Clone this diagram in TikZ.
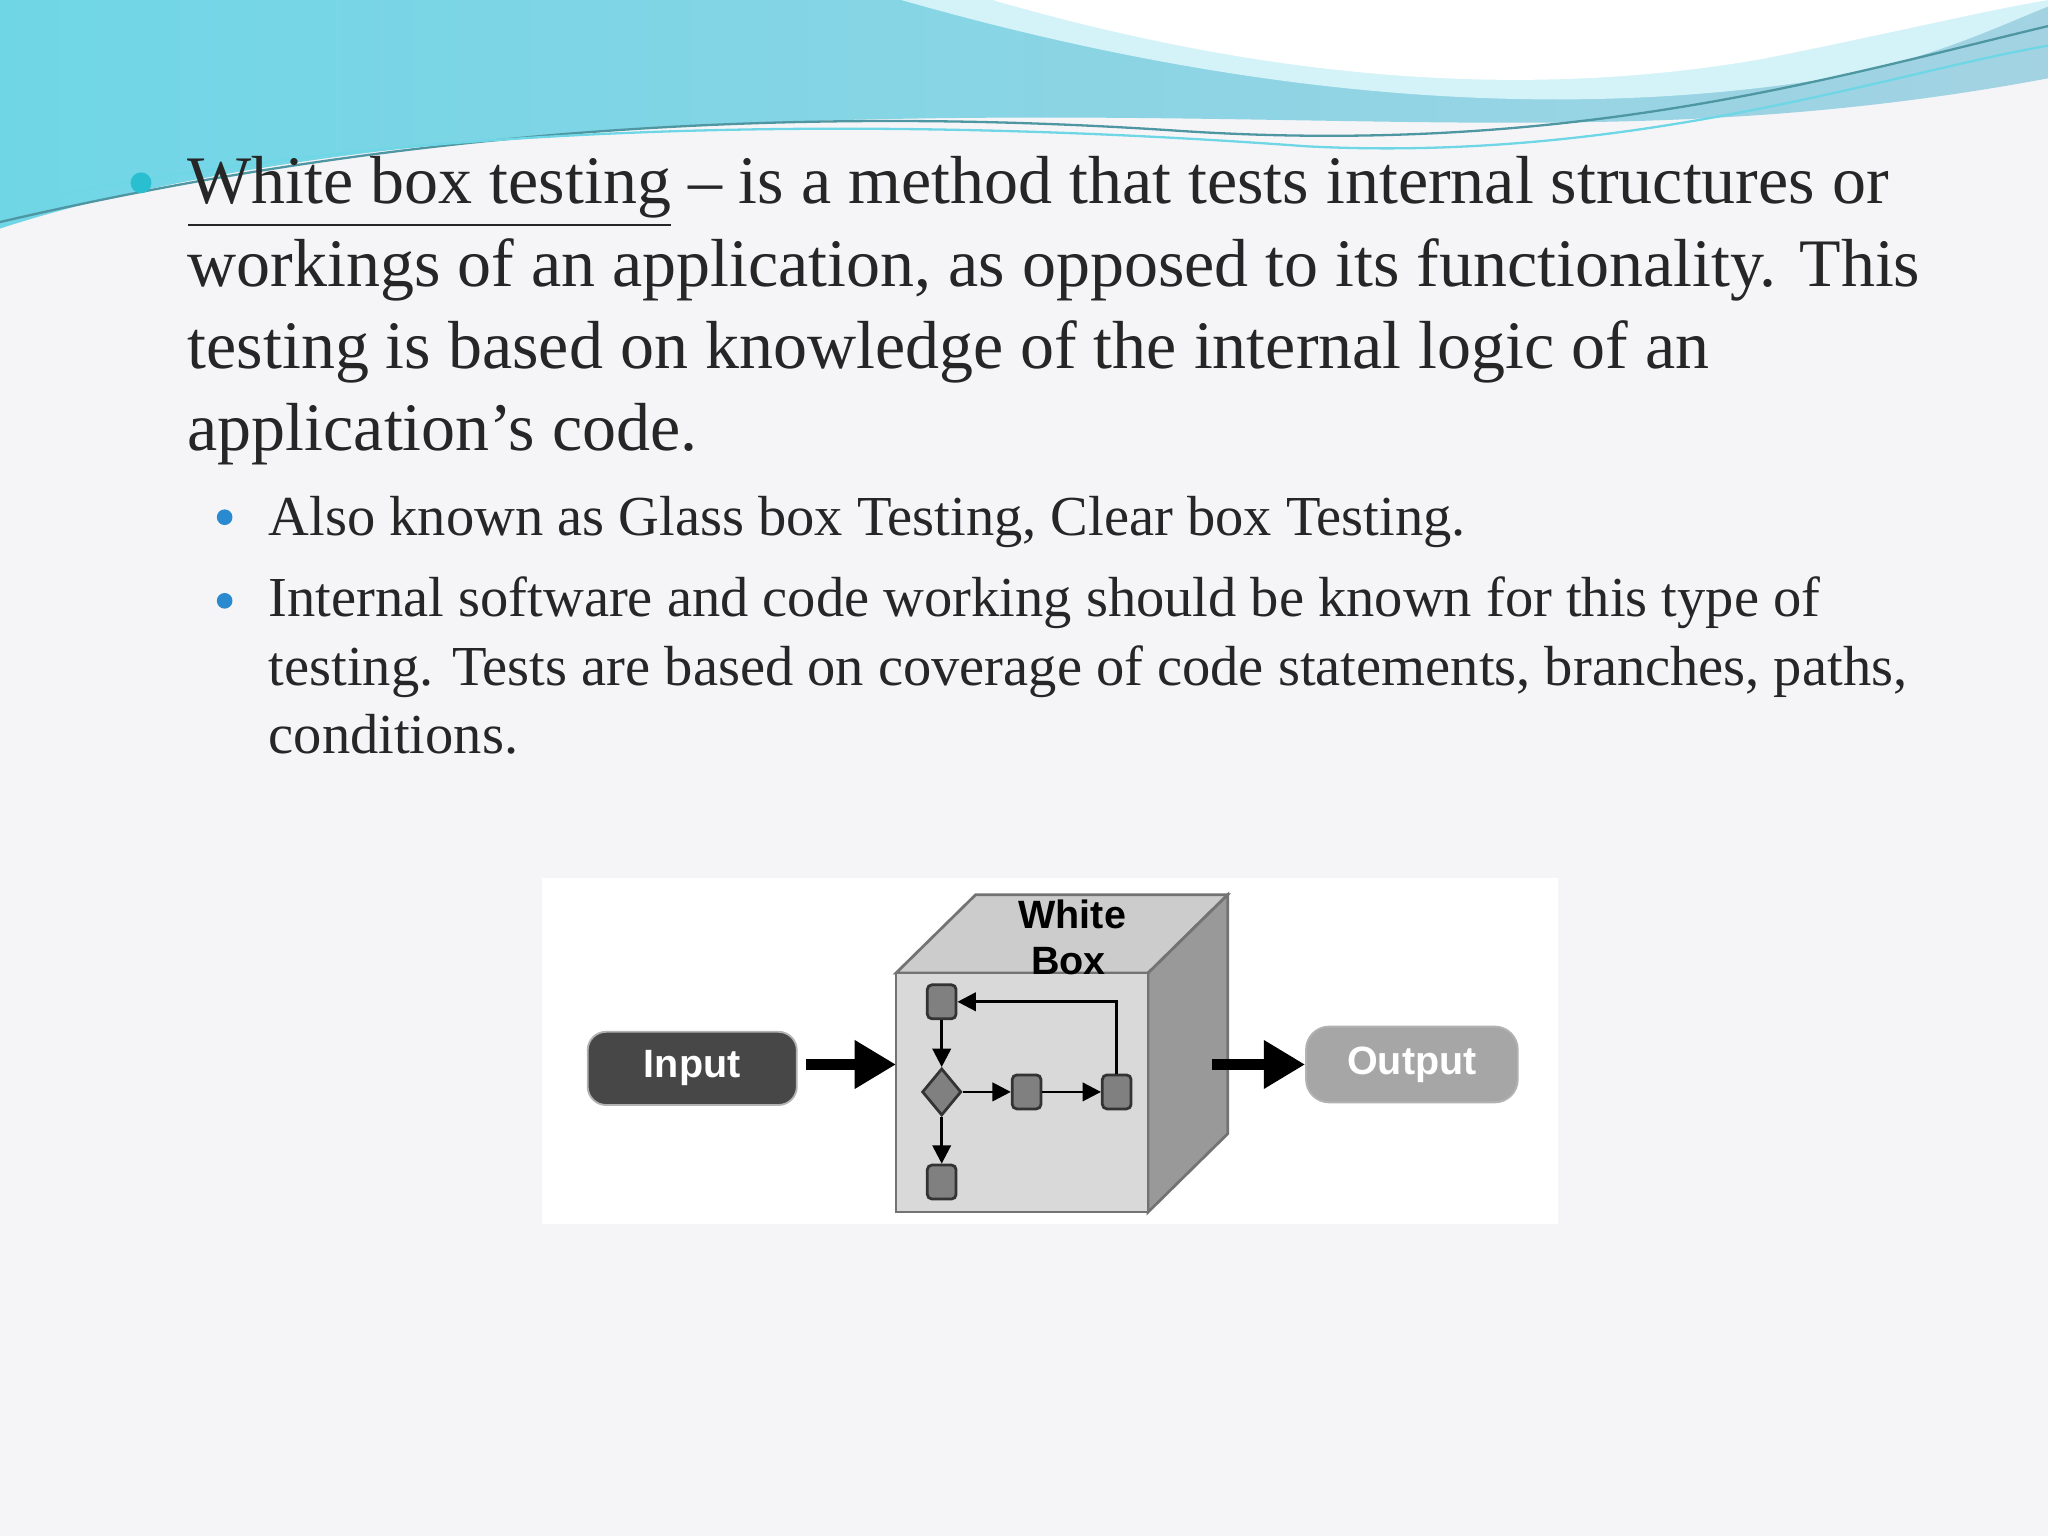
\documentclass[tikz,border=0pt]{standalone}
\usepackage{fontspec}
\setmainfont{Liberation Serif}
\setsansfont{Liberation Sans}
\usetikzlibrary{arrows.meta,shapes.geometric}
\definecolor{bgc}{HTML}{F5F5F8}
\definecolor{wave1}{HTML}{8CC8DC}
\definecolor{wave2}{HTML}{6FD6E6}
\definecolor{bul}{HTML}{2ABFD0}
\definecolor{sbul}{HTML}{2A8AD0}
\tikzset{
 mainline/.style={anchor=base west,inner sep=0,font=\fontsize{14.8}{18}\selectfont,text=black!85},
 subline/.style={anchor=base west,inner sep=0,font=\fontsize{12.3}{15}\selectfont,text=black!85},
 dlabel/.style={font=\sffamily\bfseries\fontsize{8.6}{10}\selectfont},
 smallbox/.style={draw=black!80,fill=black!50,rounded corners=1pt,minimum width=0.22cm,minimum height=0.26cm,inner sep=0,line width=0.6pt},
 flow/.style={-{Triangle[length=4pt,width=4pt]},line width=0.6pt},
 bigarrow/.style={-{Triangle[length=9pt,width=10pt]},line width=2.5pt},
}
\begin{document}
\begin{tikzpicture}[x=0.01cm,y=-0.01cm]
\useasboundingbox (0,0) rectangle (1568,1176);
\fill[bgc] (0,0) rectangle (1568,1176);
% header waves
\shade[left color=wave2,right color=wave1!80!white] (0,0) -- (1568,0) -- (1568,60) .. controls (1300,110) and (1100,90) .. (800,90) .. controls (500,90) and (200,110) .. (0,175) -- cycle;
\fill[white!70!wave2] (690,0) .. controls (900,60) and (1150,100) .. (1400,60) .. controls (1480,45) and (1530,20) .. (1568,5) -- (1568,0) -- cycle;
\fill[white] (760,0) .. controls (950,55) and (1150,80) .. (1350,45) .. controls (1450,25) and (1520,8) .. (1568,0) -- cycle;
\draw[wave2!70!black,line width=0.5pt] (0,170) .. controls (300,100) and (600,80) .. (900,100) .. controls (1200,120) and (1400,60) .. (1568,20);
\draw[wave2,line width=0.5pt] (40,150) .. controls (350,90) and (700,90) .. (1000,112) .. controls (1250,125) and (1450,55) .. (1568,35);
% text
\fill[bul] (108,140) circle (8);
\node[mainline] (l1) at (143,156) {\underline{White box testing} – is a method that tests internal structures or};
\node[mainline] (l2) at (143,219) {workings of an application, as opposed to its functionality. This};
\node[mainline] (l3) at (143,282) {testing is based on knowledge of the internal logic of an};
\node[mainline] (l4) at (143,345) {application’s code.};
\fill[sbul] (172,396) circle (6);
\node[subline] (s1) at (205,410) {Also known as Glass box Testing, Clear box Testing.};
\fill[sbul] (172,460) circle (6);
\node[subline] (s2) at (205,472) {Internal software and code working should be known for this type of};
\node[subline] (s3) at (205,525) {testing. Tests are based on coverage of code statements, branches, paths,};
\node[subline] (s4) at (205,577) {conditions.};
% diagram
\fill[white] (415,672) rectangle (1193,937);
\fill[black!20,draw=black!55,line width=0.6pt] (686,745) -- (747,685) -- (940,685) -- (879,745) -- cycle;
\fill[black!40,draw=black!55,line width=0.6pt] (879,745) -- (940,685) -- (940,868) -- (879,928) -- cycle;
\fill[black!15,draw=black!55,line width=0.6pt] (686,745) rectangle (879,928);
\node[dlabel] (wt) at (821,700) {White};
\node[dlabel] (bt) at (818,736) {Box};
\node[draw=black!30,fill=black!72,rounded corners=4pt,minimum width=1.6cm,minimum height=0.56cm,dlabel,text=white] (in) at (530,818) {Input};
\node[draw=black!30,fill=black!35,rounded corners=5pt,minimum width=1.62cm,minimum height=0.58cm,dlabel,text=white] (out) at (1081,815) {Output};
\coordinate (cl) at (686,815);
\coordinate (cr) at (928,815);
\draw[bigarrow] (617,815) -- (cl);
\draw[bigarrow] (cr) -- (out.west);
\node[smallbox] (n1) at (721,767) {};
\node[draw=black!80,fill=black!50,diamond,minimum width=0.3cm,minimum height=0.36cm,inner sep=0,line width=0.6pt] (d) at (721,836) {};
\node[smallbox] (n2) at (786,836) {};
\node[smallbox] (n3) at (855,836) {};
\node[smallbox] (n4) at (721,905) {};
\draw[flow] (n1) -- (d);
\draw[flow] (d) -- (n2);
\draw[flow] (n2) -- (n3);
\draw[flow] (d) -- (n4);
\draw[flow] (n3.north) |- (n1.east);
\end{tikzpicture}
\end{document}
